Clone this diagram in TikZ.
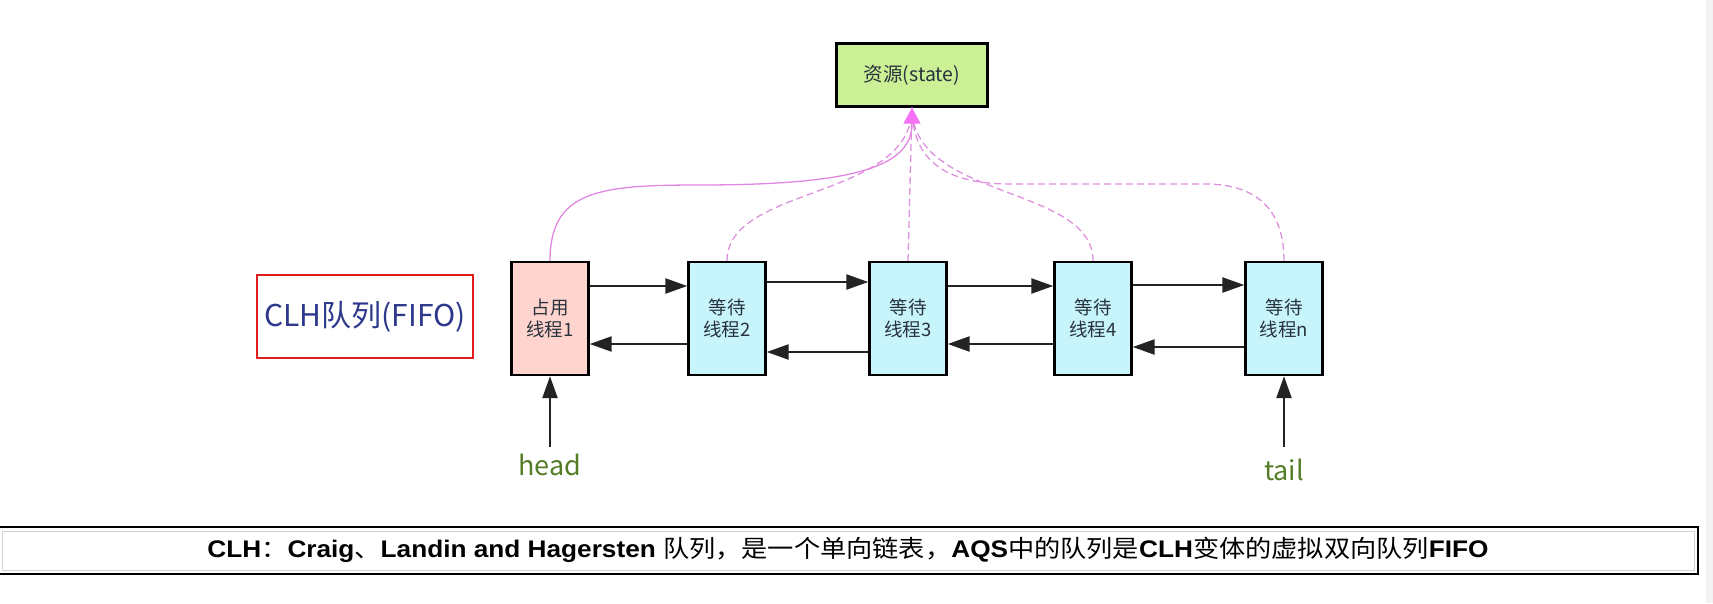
\documentclass[tikz,border=0pt]{standalone}
\usepackage{fontspec}
\usepackage{graphicx}
\setmainfont{Liberation Sans}
\newfontfamily\cjk{Noto Sans CJK SC}
\usetikzlibrary{arrows.meta}
\definecolor{nodepink}{RGB}{255,212,206}
\definecolor{nodecyan}{RGB}{200,245,252}
\definecolor{resgreen}{RGB}{204,240,150}
\definecolor{linkpink}{RGB}{226,135,226}
\definecolor{dashpink}{RGB}{222,145,222}
\definecolor{tippink}{RGB}{245,112,245}
\definecolor{labelgreen}{RGB}{85,125,40}
\definecolor{clhblue}{RGB}{45,55,140}
\definecolor{clhred}{RGB}{225,30,30}
\definecolor{txtdark}{RGB}{40,50,60}
\definecolor{linkdark}{RGB}{35,35,35}
\begin{document}
\begin{tikzpicture}[x=1pt,y=-1pt,
  thread/.style={draw=black,line width=2.4pt,minimum width=77pt,minimum height=113pt,
    inner sep=0pt,align=center,font=\cjk\fontsize{18.5}{21.5}\selectfont,text=txtdark},
  link/.style={line width=2.4pt,draw=linkdark,-{Triangle[length=22pt,width=15pt]}},
  ptr/.style={line width=2.4pt,draw=linkdark,-{Triangle[length=22pt,width=15pt]}},
  claim/.style={draw=linkpink,line width=1.3pt,-{Triangle[length=16pt,width=17pt,color=tippink]}},
  wait/.style={draw=dashpink,line width=1.3pt,dash pattern=on 7pt off 4pt},
  ptrlabel/.style={font=\cjk\fontsize{27}{30}\selectfont,text=labelgreen,inner sep=0pt}
]
\useasboundingbox (0,0) rectangle (1713,603);
\fill[gray!10] (1706,0) rectangle (1713,603);

% resource
\node[draw=black,line width=2.4pt,fill=resgreen,minimum width=151pt,minimum height=63pt,
  inner sep=0pt,font=\cjk\fontsize{19.5}{22}\selectfont,text=txtdark] (res) at (912,75) {资源(state)};

% threads
\node[thread,fill=nodepink] (n1) at (550,318.5) {占用\\线程1};
\node[thread,fill=nodecyan] (n2) at (727,318.5) {等待\\线程2};
\node[thread,fill=nodecyan] (n3) at (908,318.5) {等待\\线程3};
\node[thread,fill=nodecyan] (n4) at (1093,318.5) {等待\\线程4};
\node[thread,fill=nodecyan] (nn) at (1284,318.5) {等待\\线程n};

% CLH label
\node[draw=clhred,line width=2.4pt,minimum width=216pt,minimum height=83pt,inner sep=0pt,
  font=\cjk\fontsize{30}{34}\selectfont,text=clhblue] (clh) at (365,316.5) {CLH队列(FIFO)};

% links
\draw[link] ([yshift=32.5pt]n1.east) -- ([yshift=32.5pt]n2.west);
\draw[link] ([yshift=-25.5pt]n2.west) -- ([yshift=-25.5pt]n1.east);
\draw[link] ([yshift=36.5pt]n2.east) -- ([yshift=36.5pt]n3.west);
\draw[link] ([yshift=-33.5pt]n3.west) -- ([yshift=-33.5pt]n2.east);
\draw[link] ([yshift=32.5pt]n3.east) -- ([yshift=32.5pt]n4.west);
\draw[link] ([yshift=-25.5pt]n4.west) -- ([yshift=-25.5pt]n3.east);
\draw[link] ([yshift=33.5pt]n4.east) -- ([yshift=33.5pt]nn.west);
\draw[link] ([yshift=-28.5pt]nn.west) -- ([yshift=-28.5pt]n4.east);

% head / tail
\coordinate (hp) at (550,447);
\coordinate (tp) at (1284,447);
\draw[ptr] (hp) -- (n1.south);
\draw[ptr] (tp) -- (nn.south);
\node[ptrlabel] (head) at (550,465) {head};
\node[ptrlabel] (tail) at (1284,470) {tail};

% resource links
\draw[wait] (n2.north) .. controls (727,185) and (912,200) .. (res.south);
\draw[wait] (n4.north) .. controls (1093,185) and (912,200) .. (res.south);
\draw[wait] (nn.north) .. controls (1284,215) and (1262,184) .. (1205,184)
  -- (1010,184) .. controls (945,184) and (912,160) .. (res.south);
\draw[wait] (n3.north) -- (res.south);
\draw[claim] (n1.north) .. controls (550,190) and (600,185) .. (700,185)
  .. controls (860,185) and (912,165) .. (res.south);

% bottom note
\draw[line width=2pt,black] (-2,527) rectangle (1698,574);
\draw[line width=1pt,gray!35] (2,531) rectangle (1694,570);
\node[inner sep=0pt,font=\fontsize{24}{28}\selectfont] (note) at (848,550)
  {\resizebox{1281pt}{\height}{\bfseries CLH{\cjk\mdseries ：}Craig{\cjk\mdseries 、}Landin and Hagersten {\cjk\mdseries 队列，是一个单向链表，}AQS{\cjk\mdseries 中的队列是}CLH{\cjk\mdseries 变体的虚拟双向队列}FIFO}};
\end{tikzpicture}
\end{document}
